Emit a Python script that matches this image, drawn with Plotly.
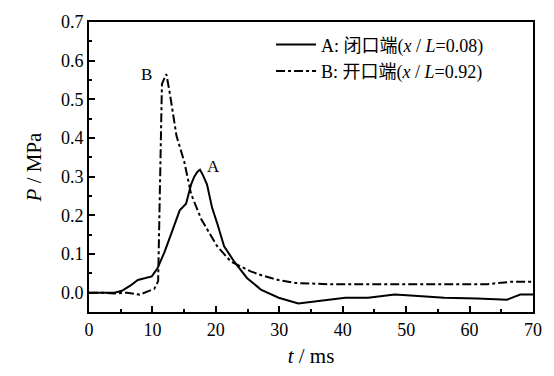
import plotly.graph_objects as go

# Curve A: closed end (x/L=0.08)
A_t = [0, 2, 4, 5.2, 6.5, 7.7, 9, 9.9, 10.8, 11.9, 13.2, 14.3, 15.3, 16.1, 16.6, 17.1, 17.5,
       17.9, 18.6, 19.4, 20.2, 21.3, 22.9, 24.9, 27.1, 29.9, 33, 36.7, 40.4, 44, 48.2, 51.3,
       56, 61.2, 65.9, 68, 70]
A_P = [0.0, 0.0, 0.0, 0.005, 0.018, 0.033, 0.038, 0.042, 0.063, 0.105, 0.163, 0.213, 0.23,
       0.28, 0.30, 0.313, 0.318, 0.306, 0.28, 0.22, 0.18, 0.12, 0.08, 0.038, 0.008, -0.013,
       -0.028, -0.02, -0.013, -0.013, -0.005, -0.008, -0.013, -0.015, -0.018, -0.005, -0.005]

# Curve B: open end (x/L=0.92)
B_t = [0, 2, 4, 6, 8, 10.3, 10.9, 11.2, 11.5, 11.9, 12.2, 12.7, 13.8, 15.0, 16.1, 17.7,
       20.2, 22.4, 25.5, 27.2, 30, 32.6, 37.7, 44, 50.7, 56, 62.8, 66.4, 70]
B_P = [0.0, 0.0, -0.002, 0.0, -0.005, 0.01, 0.03, 0.3, 0.54, 0.555, 0.565, 0.52, 0.405,
       0.34, 0.255, 0.19, 0.12, 0.08, 0.055, 0.045, 0.032, 0.025, 0.022, 0.022, 0.022,
       0.022, 0.022, 0.028, 0.028]

A_name = "A: 闭口端(<i>x</i> / <i>L</i>=0.08)"
B_name = "B: 开口端(<i>x</i> / <i>L</i>=0.92)"
labels = [("B", 9.1, 0.565), ("A", 19.7, 0.326)]

font = "Liberation Serif, Times New Roman, Noto Sans CJK SC, serif"

fig = go.Figure()
fig.add_trace(go.Scatter(x=A_t, y=A_P, mode="lines", name=A_name,
                         line=dict(color="black", width=2)))
fig.add_trace(go.Scatter(x=B_t, y=B_P, mode="lines", name=B_name,
                         line=dict(color="black", width=2, dash="dashdot")))

for txt, tx, ty in labels:
    fig.add_annotation(x=tx, y=ty, text=txt, showarrow=False,
                       font=dict(size=17, color="black", family=font))

axis_common = dict(showline=True, linecolor="black", linewidth=2, mirror=True,
                   ticks="inside", ticklen=6, tickwidth=2, tickcolor="black",
                   showgrid=False, zeroline=False,
                   tickfont=dict(size=18, color="black", family=font))

fig.update_xaxes(range=[0, 70], dtick=10, tick0=0,
                 minor=dict(ticks="inside", dtick=5, ticklen=3, tickwidth=1.5, tickcolor="black"),
                 title=dict(text="<i>t</i> / ms", font=dict(size=21, color="black", family=font),
                            standoff=10),
                 **axis_common)
fig.update_yaxes(range=[-0.05, 0.7], dtick=0.1, tick0=0, tickformat=".1f",
                 minor=dict(ticks="inside", dtick=0.05, ticklen=3, tickwidth=1.5, tickcolor="black"),
                 title=dict(text="<i>P</i> / MPa", font=dict(size=21, color="black", family=font),
                            standoff=14),
                 **axis_common)

fig.update_layout(
    width=554, height=376,
    margin=dict(l=89, r=18, t=15, b=62),
    plot_bgcolor="white", paper_bgcolor="white",
    font=dict(family=font, color="black"),
    legend=dict(x=0.41, y=0.985, xanchor="left", yanchor="top",
                bgcolor="rgba(0,0,0,0)", font=dict(size=18, color="black", family=font),
                tracegroupgap=0, itemwidth=40),
    showlegend=True,
)

fig.write_html("out.html")
